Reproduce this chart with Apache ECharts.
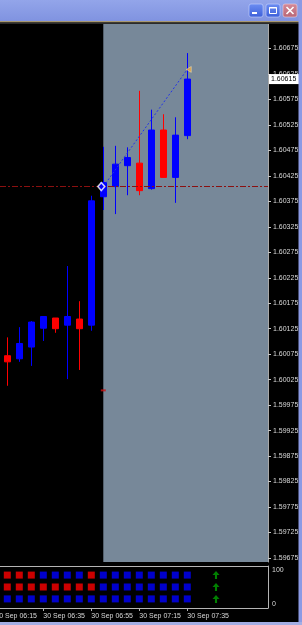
<!DOCTYPE html>
<html><head><meta charset="utf-8">
<script src="https://cdn.jsdelivr.net/npm/echarts@6/dist/echarts.min.js"></script>
<style>html,body{margin:0;padding:0;background:#000;overflow:hidden}#c{width:302px;height:625px}</style>
</head><body><div id="c"></div>
<script>
// ---- data ----
const candleTimes = ['06:20','06:25','06:30','06:35','06:40','06:45','06:50','06:55','07:00','07:05','07:10','07:15','07:20','07:25','07:30','07:35'];
const opens  = [1.60072,1.60066,1.60089,1.60126,1.60146,1.60132,1.60144,1.60132,1.60384,1.60404,1.60445,1.60450,1.60400,1.60515,1.60422,1.60504];
const closes = [1.60060,1.60096,1.60138,1.60149,1.60125,1.60149,1.60125,1.60376,1.60412,1.60448,1.60461,1.60396,1.60515,1.60422,1.60505,1.60615];
const lows   = [1.60013,1.60060,1.60052,1.60101,1.60117,1.60026,1.60044,1.60121,1.60358,1.60350,1.60387,1.60387,1.60398,1.60422,1.60372,1.60497];
const highs  = [1.60108,1.60128,1.60140,1.60149,1.60146,1.60248,1.60179,1.60386,1.60482,1.60484,1.60481,1.60592,1.60555,1.60546,1.60540,1.60666];
const priceTicks = [1.59675,1.59725,1.59775,1.59825,1.59875,1.59925,1.59975,1.60025,1.60075,1.60125,1.60175,1.60225,1.60275,1.60325,1.60375,1.60425,1.60475,1.60525,1.60575,1.60625,1.60675];
const timeTickIdx = [-1,3,7,11,15];
const timeTickLabels = ['30 Sep 06:15','30 Sep 06:35','30 Sep 06:55','30 Sep 07:15','30 Sep 07:35'];
const bidPrice = 1.60615;
const levelPrice = 1.60404;
const zoneStartIdx = 8;
const tradeOpen = [8, 1.60404];
const tradeClose = [15, 1.60634];
const stopMark = [8, 1.60004];
const row1 = ['R','R','R','B','B','B','B','R','B','B','B','B','B','B','B','B'];
const row2 = ['R','R','R','R','R','R','R','R','B','B','B','B','B','B','B','B'];
const row3 = ['B','B','B','B','B','B','B','B','B','B','B','B','B','B','B','B'];
const rowLevels = [85, 50, 15];
const signalIdx = 17;
const panelTicks = [0, 100];

// ---- layout ----
const X0 = 7.3, STEP = 12, PLOT_R = 268;
const xMin = -X0 / STEP, xMax = (PLOT_R - X0) / STEP;
const FONT = 'Liberation Sans';
const LBL = '#d8d8d8', BORDER = '#b4b4b4';
const chart = echarts.init(document.getElementById('c'), null, {renderer:'canvas'});
const rows = [row1,row2,row3];
const sqSeries = rows.map((r,ri)=>({
  type:'scatter', xAxisIndex:1, yAxisIndex:1, symbol:'rect', symbolSize:7, silent:true, z:5,
  data: r.map((c,i)=>({value:[i,rowLevels[ri]], itemStyle:{color: c==='R'?'#ff0000':'#0000ff'}}))
}));
const inRangeTicks = timeTickIdx.filter(v=>v>=xMin);
const option = {
  animation:false,
  backgroundColor:'#000',
  grid:[
    {left:0, right:302-PLOT_R, top:24, height:538, show:false},
    {left:0, right:302-PLOT_R, top:566, height:42, show:false}
  ],
  xAxis:[
    {type:'value', gridIndex:0, min:xMin, max:xMax, axisLine:{show:false, onZero:false}, axisTick:{show:false}, axisLabel:{show:false}, splitLine:{show:false}},
    {type:'value', gridIndex:1, min:xMin, max:xMax, position:'bottom', splitLine:{show:false},
      axisLine:{show:true, onZero:false, lineStyle:{color:BORDER}},
      axisTick:{show:true, length:3, customValues:inRangeTicks, lineStyle:{color:BORDER}},
      axisLabel:{show:true, customValues:inRangeTicks, align:'left', margin:5, color:LBL, fontSize:7, fontFamily:FONT,
        formatter:(v)=>{const k=timeTickIdx.indexOf(Math.round(v)); return k>=0?timeTickLabels[k]:'';}}},
    {type:'value', gridIndex:1, min:xMin, max:xMax, position:'top', splitLine:{show:false},
      axisLine:{show:true, onZero:false, lineStyle:{color:BORDER}}, axisTick:{show:false}, axisLabel:{show:false}}
  ],
  yAxis:[
    {type:'value', gridIndex:0, position:'right', min:1.596671, max:1.607231, splitLine:{show:false},
      axisLine:{show:true, onZero:false, lineStyle:{color:'#a8a8a8'}},
      axisTick:{show:true, length:3, customValues:priceTicks, lineStyle:{color:'#c8c8c8'}},
      axisLabel:{show:true, customValues:priceTicks, margin:5, color:LBL, fontSize:7, fontFamily:FONT, formatter:(v)=>v.toFixed(5)}},
    {type:'value', gridIndex:1, position:'right', min:-11.76, max:111.76, splitLine:{show:false},
      axisLine:{show:true, onZero:false, lineStyle:{color:BORDER}}, axisTick:{show:false},
      axisLabel:{show:true, customValues:panelTicks, margin:4, color:LBL, fontSize:7, fontFamily:FONT}}
  ],
  series:[
    {type:'line', xAxisIndex:0, yAxisIndex:0, data:[], z:1, silent:true,
      markArea:{silent:true, itemStyle:{color:'#778899'}, data:[[{xAxis:zoneStartIdx},{xAxis:xMax}]]},
      markLine:{silent:true, precision:5, symbol:'none', label:{show:false}, lineStyle:{color:'#8b1010', width:1, type:[6,2,2,2]}, data:[{yAxis:levelPrice}]}},
    {type:'candlestick', xAxisIndex:0, yAxisIndex:0, barWidth:7, z:3, silent:true,
      data: opens.map((o,i)=>[i,o,closes[i],lows[i],highs[i]]),
      itemStyle:{color:'#0000ff', color0:'#ff0000', borderColor:'#0000ff', borderColor0:'#ff0000', borderWidth:1},
      markLine:{silent:true, precision:5, symbol:'none', lineStyle:{color:'transparent', width:0}, data:[{yAxis:bidPrice}],
        label:{show:true, position:'end', distance:1, formatter:bidPrice.toFixed(5), backgroundColor:'#ffffff', color:'#000', fontSize:7, fontFamily:FONT, padding:[2,3,1,2]}}},
    {type:'line', xAxisIndex:0, yAxisIndex:0, data:[tradeOpen, tradeClose], symbol:'none', z:6, silent:true,
      lineStyle:{color:'#2233e8', width:1, type:[2,2]}},
    {type:'scatter', xAxisIndex:0, yAxisIndex:0, data:[tradeOpen], symbol:'diamond', symbolSize:[7,8], symbolOffset:[-2,0], z:8, silent:true,
      itemStyle:{color:'#0000ff', borderColor:'#ffffff', borderWidth:1.5}},
    {type:'scatter', xAxisIndex:0, yAxisIndex:0, data:[tradeClose], symbol:'triangle', symbolRotate:90, symbolSize:[6,5], symbolOffset:[1.5,0], z:8, silent:true,
      itemStyle:{color:'#f0a838', borderColor:'#fff3d0', borderWidth:0.5}},
    {type:'scatter', xAxisIndex:0, yAxisIndex:0, data:[stopMark], symbol:'rect', symbolSize:[5,2], z:8, silent:true,
      itemStyle:{color:'#cc1010'}},
    ...sqSeries,
    {type:'scatter', xAxisIndex:1, yAxisIndex:1, data: rowLevels.map(v=>[signalIdx, v]), symbol:'path://M5,0 L10,5 L6.5,5 L6.5,10 L3.5,10 L3.5,5 L0,5 Z',
      symbolSize:[7,8], symbolOffset:[4.7,0], z:6, silent:true, itemStyle:{color:'#00a000'}}
  ],
  graphic:[
    {id:'tb', type:'rect', shape:{x:0,y:0,width:302,height:21}, z:100, silent:true,
      style:{fill:new echarts.graphic.LinearGradient(0,0,0,1,[{offset:0,color:'#93a5ea'},{offset:1,color:'#8093e0'}])}},
    {id:'tb2', type:'rect', shape:{x:0,y:21,width:302,height:1.5}, z:100, silent:true, style:{fill:'#a89870'}},
    {id:'tb3', type:'rect', shape:{x:0,y:22.5,width:302,height:1.5}, z:100, silent:true, style:{fill:'#2a2a2a'}},
    {id:'fr', type:'rect', shape:{x:298.5,y:0,width:4,height:625}, z:100, silent:true, style:{fill:'#8b9ae4'}},
    {id:'fb', type:'rect', shape:{x:0,y:622,width:302,height:3}, z:100, silent:true, style:{fill:'#a4aee4'}},
    {id:'b1', type:'rect', shape:{x:249,y:4,width:14,height:13,r:2}, z:101, silent:true,
      style:{fill:new echarts.graphic.LinearGradient(0,0,0,1,[{offset:0,color:'#6d8ef2'},{offset:1,color:'#3c5fd9'}]), stroke:'#c8d4ff', lineWidth:0.6}},
    {id:'b1a', type:'rect', shape:{x:252,y:12,width:5,height:2}, z:102, silent:true, style:{fill:'#ffffff'}},
    {id:'b2', type:'rect', shape:{x:266,y:4,width:14,height:13,r:2}, z:101, silent:true,
      style:{fill:new echarts.graphic.LinearGradient(0,0,0,1,[{offset:0,color:'#6d8ef2'},{offset:1,color:'#3c5fd9'}]), stroke:'#c8d4ff', lineWidth:0.6}},
    {id:'b2a', type:'rect', shape:{x:269.5,y:7.5,width:7,height:6}, z:102, silent:true, style:{fill:'none', stroke:'#ffffff', lineWidth:1}},
    {id:'b2b', type:'rect', shape:{x:269.5,y:7,width:7,height:1.5}, z:102, silent:true, style:{fill:'#ffffff'}},
    {id:'b3', type:'rect', shape:{x:283,y:4,width:14,height:13,r:2}, z:101, silent:true,
      style:{fill:new echarts.graphic.LinearGradient(0,0,0,1,[{offset:0,color:'#d58a98'},{offset:1,color:'#b86676'}]), stroke:'#f0d0d8', lineWidth:0.6}},
    {id:'b3a', type:'line', shape:{x1:286.5,y1:7,x2:293.5,y2:14}, z:102, silent:true, style:{stroke:'#ffffff', lineWidth:1.6}},
    {id:'b3b', type:'line', shape:{x1:293.5,y1:7,x2:286.5,y2:14}, z:102, silent:true, style:{stroke:'#ffffff', lineWidth:1.6}}
  ]
};
chart.setOption(option);
// first time label lies left of the plot's first slot: place it via the axis scale
const outTicks = timeTickIdx.filter(v=>v<xMin);
const axisBottom = chart.convertToPixel({yAxisIndex:1}, -11.76);
chart.setOption({graphic: outTicks.map((v,k)=>({
  id:'tl'+k, type:'text', silent:true, z:50,
  x: chart.convertToPixel({xAxisIndex:1}, v), y: axisBottom + 5,
  style:{text: timeTickLabels[timeTickIdx.indexOf(v)], fill:LBL, font:'7px "'+FONT+'"', textVerticalAlign:'top'}
}))});
</script></body></html>
